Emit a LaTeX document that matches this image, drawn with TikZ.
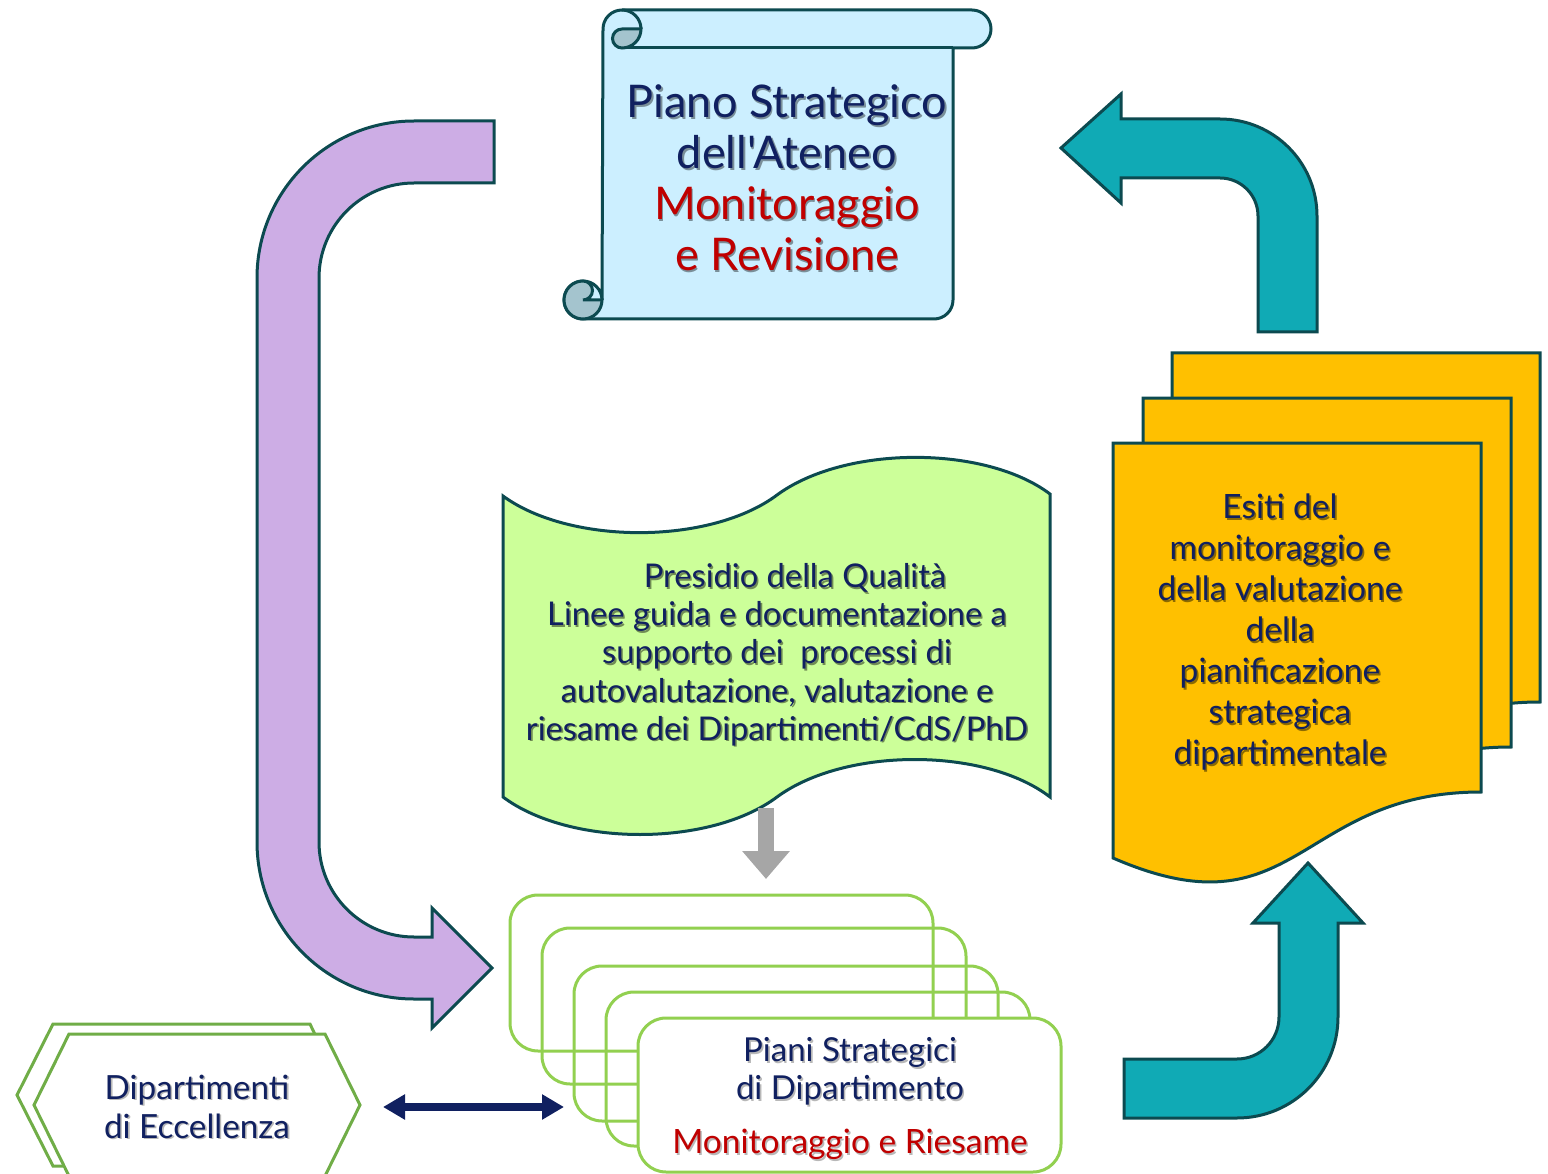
\documentclass[tikz,border=0pt]{standalone}
\usepackage{fontspec}
\setmainfont{Lato}[Ligatures=TeXOff]
\usetikzlibrary{arrows.meta}

\definecolor{edge}{RGB}{12,74,80}
\definecolor{lilac}{RGB}{205,173,229}
\definecolor{tealfill}{RGB}{16,170,181}
\definecolor{scrollblue}{RGB}{204,239,255}
\definecolor{scrollshade}{RGB}{164,196,206}
\definecolor{mint}{RGB}{204,255,153}
\definecolor{amber}{RGB}{255,192,0}
\definecolor{leaf}{RGB}{146,208,80}
\definecolor{moss}{RGB}{112,173,71}
\definecolor{navy}{RGB}{16,32,96}
\definecolor{crimson}{RGB}{192,0,0}
\definecolor{arrowgray}{RGB}{166,166,166}

% text with a soft drop shadow
\newcommand\tsh[2][black!28]{\leavevmode\rlap{\kern1.6pt\raisebox{-1.6pt}{\textcolor{#1}{#2}}}#2}

\tikzset{
  outline/.style={draw=edge, line width=3pt, line join=miter},
  docpage/.style={outline, fill=amber},
  planbox/.style={draw=leaf, line width=3pt, rounded corners=28pt},
  hexbox/.style={draw=moss, line width=3pt, fill=white, line join=miter},
  txt/.style={align=center, text=navy, inner sep=0pt},
}

\begin{document}
\begin{tikzpicture}[x=1pt, y=1pt]
\useasboundingbox (0,0) rectangle (1548,-1174);

% ---- scroll: Piano Strategico dell'Ateneo ----
\draw[outline, fill=scrollblue]
  (622,-10) -- (972,-10) arc[start angle=90, end angle=-90, radius=19]
  -- (953,-48) -- (953,-300) arc[start angle=0, end angle=-90, radius=19]
  -- (583,-319) arc[start angle=-90, end angle=-360, radius=19]
  -- (603,-29) arc[start angle=180, end angle=90, radius=19] -- cycle;
\draw[outline] (622,-48) -- (953,-48);
\draw[outline] (622,-10) arc[start angle=90, end angle=0, radius=19];
\draw[outline, fill=scrollshade]
  (622,-29) -- (641,-29) arc[start angle=0, end angle=-90, radius=19]
  arc[start angle=-90, end angle=-270, radius=9.5] -- cycle;
\draw[outline, fill=scrollshade]
  (583,-281) arc[start angle=90, end angle=-90, radius=9.5]
  -- (602,-300) arc[start angle=0, end angle=-270, radius=19] -- cycle;
\node[txt, font=\fontsize{45}{51}\selectfont] (ateneo) at (787,-178.5)
  {\tsh[scrollblue!60!black]{Piano Strategico}\\
   \tsh[scrollblue!60!black]{dell'Ateneo}\\
   \textcolor{crimson}{\tsh[scrollblue!60!black]{Monitoraggio}}\\
   \textcolor{crimson}{\tsh[scrollblue!60!black]{e Revisione}}};

% ---- purple bent arrow ----
\draw[outline, fill=lilac]
  (494,-121) -- (414,-121) arc[start angle=90, end angle=180, radius=157]
  -- (257,-842) arc[start angle=180, end angle=270, radius=157]
  -- (432,-999) -- (432,-1028) -- (492,-968) -- (432,-908) -- (432,-937)
  -- (414,-937) arc[start angle=270, end angle=180, radius=95]
  -- (319,-278) arc[start angle=180, end angle=90, radius=95]
  -- (494,-183) -- cycle;

% ---- teal bent arrow, top right ----
\draw[outline, fill=tealfill]
  (1317,-332) -- (1317,-216) arc[start angle=0, end angle=90, radius=97]
  -- (1121,-119) -- (1121,-94) -- (1061,-148) -- (1121,-203) -- (1121,-178)
  -- (1220,-178) arc[start angle=90, end angle=0, radius=38]
  -- (1258,-332) -- cycle;

% ---- teal bent arrow, bottom right ----
\draw[outline, fill=tealfill]
  (1124,-1059) -- (1237,-1059) arc[start angle=-90, end angle=0, radius=42]
  -- (1279,-923) -- (1253,-923) -- (1308,-863) -- (1363,-923) -- (1338,-923)
  -- (1338,-1017) arc[start angle=0, end angle=-90, radius=101]
  -- (1124,-1118) -- cycle;

% ---- stacked documents ----
\foreach \x/\y in {1172/353, 1143/398, 1113/443}{
  \pgfmathsetmacro\xr{\x+368}
  \pgfmathsetmacro\xm{\x+184}
  \pgfmathsetmacro\yr{-\y-349}
  \pgfmathsetmacro\yc{-\y-495}
  \pgfmathsetmacro\yl{-\y-415}
  \draw[docpage] (\x,-\y) -- (\xr,-\y) -- (\xr,\yr)
    .. controls (\xm,\yr) and (\xm,\yc) .. (\x,\yl) -- cycle;
}
\node[txt, font=\fontsize{33.5}{41}\selectfont] (esiti) at (1280,-633)
  {\tsh[amber!55!black]{Esiti del}\\
   \tsh[amber!55!black]{monitoraggio e}\\
   \tsh[amber!55!black]{della valutazione}\\
   \tsh[amber!55!black]{della}\\
   \tsh[amber!55!black]{pianificazione}\\
   \tsh[amber!55!black]{strategica}\\
   \tsh[amber!55!black]{dipartimentale}};

% ---- wave: Presidio della Qualita ----
\draw[outline, fill=mint]
  (503,-496) .. controls (570,-545) and (710,-545) .. (777,-495)
  .. controls (845,-445) and (985,-445) .. (1050,-494)
  -- (1050,-797) .. controls (985,-747) and (845,-747) .. (777,-797)
  .. controls (710,-847) and (570,-847) .. (503,-797) -- cycle;
\node[txt, font=\fontsize{32.7}{38.2}\selectfont] (presidio) at (777,-655.5)
  {\hspace*{36pt}\tsh[mint!55!black]{Presidio della Qualità}\\
   \tsh[mint!55!black]{Linee guida e documentazione a}\\
   \tsh[mint!55!black]{supporto dei\ \ processi di}\\
   \tsh[mint!55!black]{autovalutazione, valutazione e}\\
   \tsh[mint!55!black]{riesame dei Dipartimenti/CdS/PhD}};

% ---- stacked department plans ----
\draw[planbox] (510,-895) rectangle (933,-1051);
\draw[planbox] (542,-928) rectangle (966,-1084);
\draw[planbox] (574,-966) rectangle (998,-1121);
\draw[planbox] (606,-992) rectangle (1030,-1146);
\draw[planbox, fill=white] (638,-1018) rectangle (1061,-1172);
\node[txt, font=\fontsize{33}{38}\selectfont] (piani) at (850,-1072.5)
  {\tsh{Piani Strategici}\\ \tsh{di Dipartimento}};
\node[txt, text=crimson, font=\fontsize{33.5}{38}\selectfont] (riesame) at (850,-1145.5)
  {\tsh{Monitoraggio e Riesame}};

% ---- hexagons: Dipartimenti di Eccellenza ----
\draw[hexbox] (53,-1024) -- (310,-1024) -- (344,-1095) -- (310,-1166) -- (53,-1166) -- (17,-1095) -- cycle;
\draw[hexbox] (69,-1034) -- (325,-1034) -- (360,-1105) -- (325,-1176) -- (69,-1176) -- (34,-1105) -- cycle;
\node[txt, font=\fontsize{33.3}{39}\selectfont] (eccellenza) at (197,-1107.5)
  {\tsh{Dipartimenti}\\ \tsh{di Eccellenza}};

% ---- connectors ----
\coordinate (qualBase) at (766,-808);
\coordinate (planTop) at (766,-879);
\draw[arrowgray, line width=16pt, -{Triangle[length=28pt, width=46pt]}] (qualBase) -- (planTop);

\coordinate (hexSide) at (383,-1107);
\coordinate (planSide) at (564,-1107);
\draw[navy, line width=8pt, {Triangle[length=22pt, width=24pt]}-{Triangle[length=22pt, width=24pt]}] (hexSide) -- (planSide);
\end{tikzpicture}
\end{document}
